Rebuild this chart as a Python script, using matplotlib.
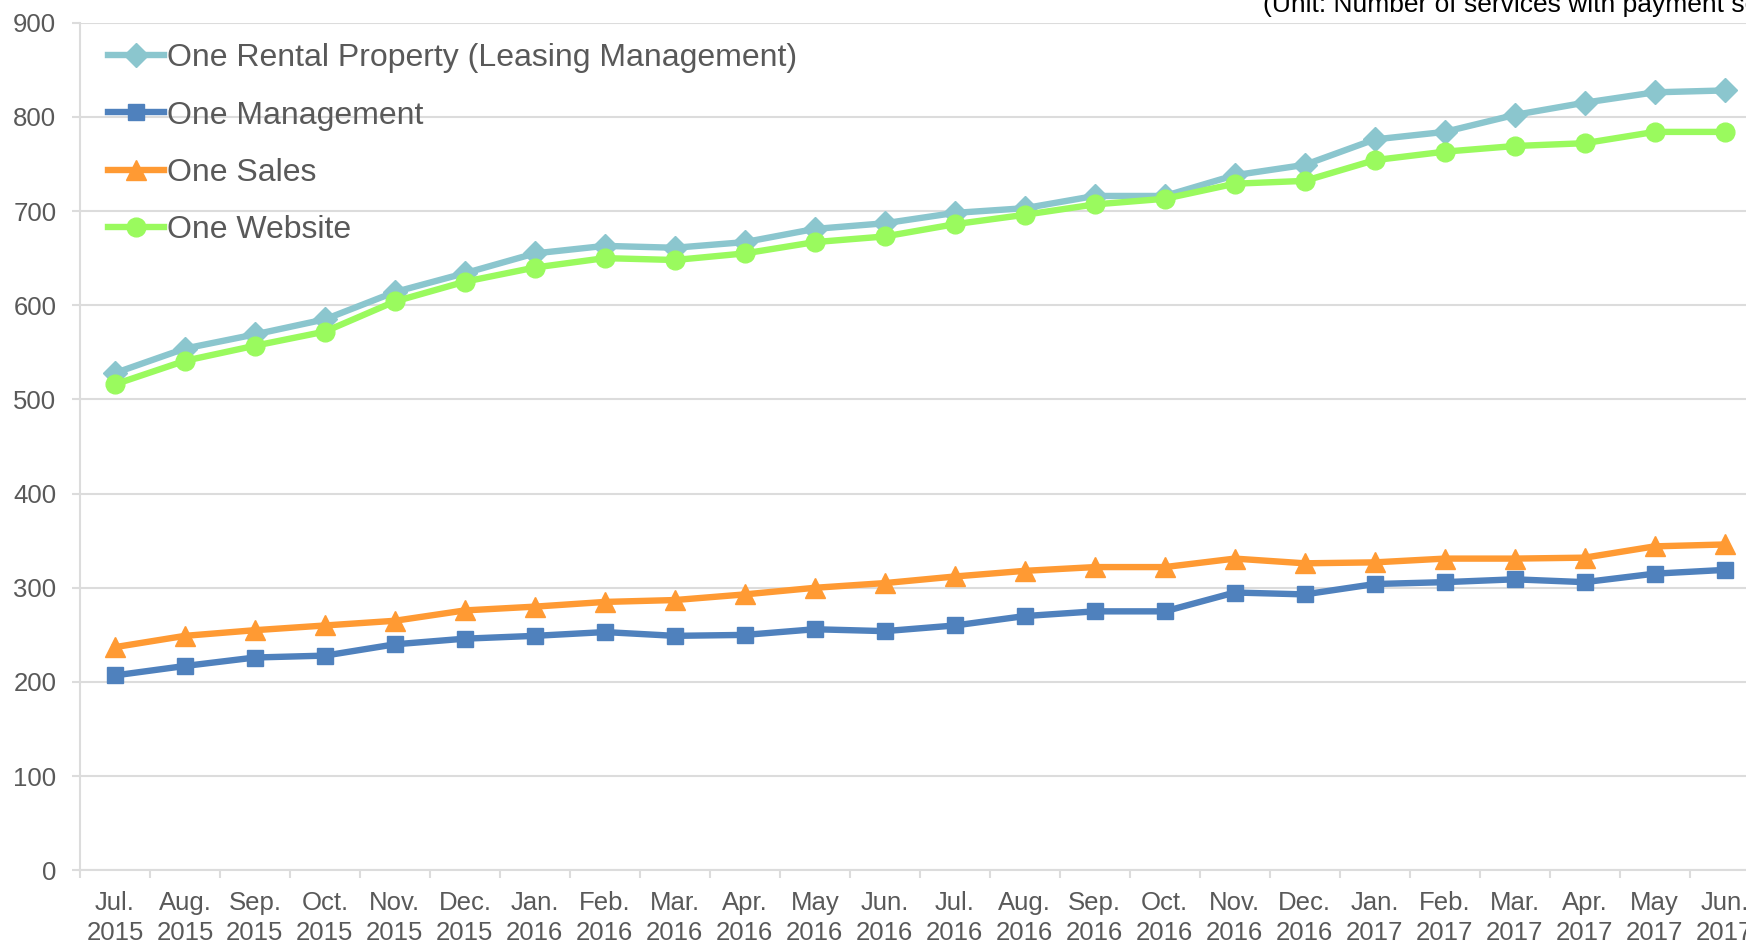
import numpy as np
import matplotlib
matplotlib.use("Agg")
import matplotlib.pyplot as plt

plt.rcParams['font.family'] = ['Liberation Sans', 'DejaVu Sans']

# categories (Jul. 2015 .. Jun. 2017)
months = ['Jul.', 'Aug.', 'Sep.', 'Oct.', 'Nov.', 'Dec.', 'Jan.', 'Feb.', 'Mar.', 'Apr.', 'May', 'Jun.',
          'Jul.', 'Aug.', 'Sep.', 'Oct.', 'Nov.', 'Dec.', 'Jan.', 'Feb.', 'Mar.', 'Apr.', 'May', 'Jun.']
years = ['2015'] * 6 + ['2016'] * 12 + ['2017'] * 6
labels = [m + '\n' + y for m, y in zip(months, years)]

rental = [528, 554, 569, 585, 614, 634, 655, 663, 661, 667, 681, 687,
          698, 703, 716, 716, 738, 749, 776, 784, 802, 815, 826, 828]
management = [207, 217, 226, 228, 240, 246, 249, 253, 249, 250, 256, 254,
              260, 270, 275, 275, 295, 293, 304, 306, 309, 306, 315, 319]
sales = [237, 249, 255, 260, 265, 276, 280, 285, 287, 293, 300, 305,
         312, 318, 322, 322, 331, 326, 327, 331, 331, 332, 344, 346]
website = [516, 541, 557, 572, 604, 625, 640, 650, 648, 655, 667, 673,
           686, 696, 707, 713, 729, 732, 754, 763, 769, 772, 784, 784]

series = [
    ('One Rental Property (Leasing Management)', rental, '#8bc6ce', 'D', 12.5),
    ('One Management', management, '#4f81bd', 's', 12),
    ('One Sales', sales, '#ff9a33', '^', 14),
    ('One Website', website, '#9afa5e', 'o', 13.5),
]

fig = plt.figure(figsize=(17.46, 9.43), dpi=100)
ax = fig.add_axes([0.0458, 0.077, 0.962, 0.899])

x = np.arange(len(labels))
for name, vals, col, mk, ms in series:
    ax.plot(x, vals, color=col, lw=4.6, marker=mk, markersize=ms,
            markerfacecolor=col, markeredgecolor=col, label=name)

ax.set_xlim(-0.5, len(labels) - 0.5)
ax.set_ylim(0, 900)
ax.set_yticks(np.arange(0, 901, 100))
ax.set_xticks(x)
ax.set_xticklabels(labels, linespacing=1.3)
ax.set_xticks(np.arange(-0.5, len(labels), 1), minor=True)

grid_c = '#dcdcdc'
ax.yaxis.grid(True, color=grid_c, lw=1.5)
ax.set_axisbelow(True)
for s in ['top', 'right']:
    ax.spines[s].set_visible(False)
for s in ['left', 'bottom']:
    ax.spines[s].set_color(grid_c)
    ax.spines[s].set_linewidth(1.5)

ax.tick_params(axis='x', which='major', length=0, pad=15, labelsize=18.5, labelcolor='#595959')
ax.tick_params(axis='x', which='minor', length=6, width=1.5, color=grid_c)
ax.tick_params(axis='y', length=6, width=1.5, color=grid_c, pad=11, labelsize=18.5, labelcolor='#595959')

leg = ax.legend(loc='upper left', bbox_to_anchor=(0.0619, 0.954), bbox_transform=fig.transFigure,
                frameon=False, fontsize=23, handlelength=1.75, handletextpad=0.1,
                labelspacing=0.85, borderpad=0, borderaxespad=0, numpoints=1)
for t in leg.get_texts():
    t.set_color('#595959')

fig.text(1263 / 1746, 0.9876, '(Unit: Number of services with payment settled)',
         fontsize=19, color='#000000', ha='left', va='baseline')

fig.savefig('out.png', dpi=100)
